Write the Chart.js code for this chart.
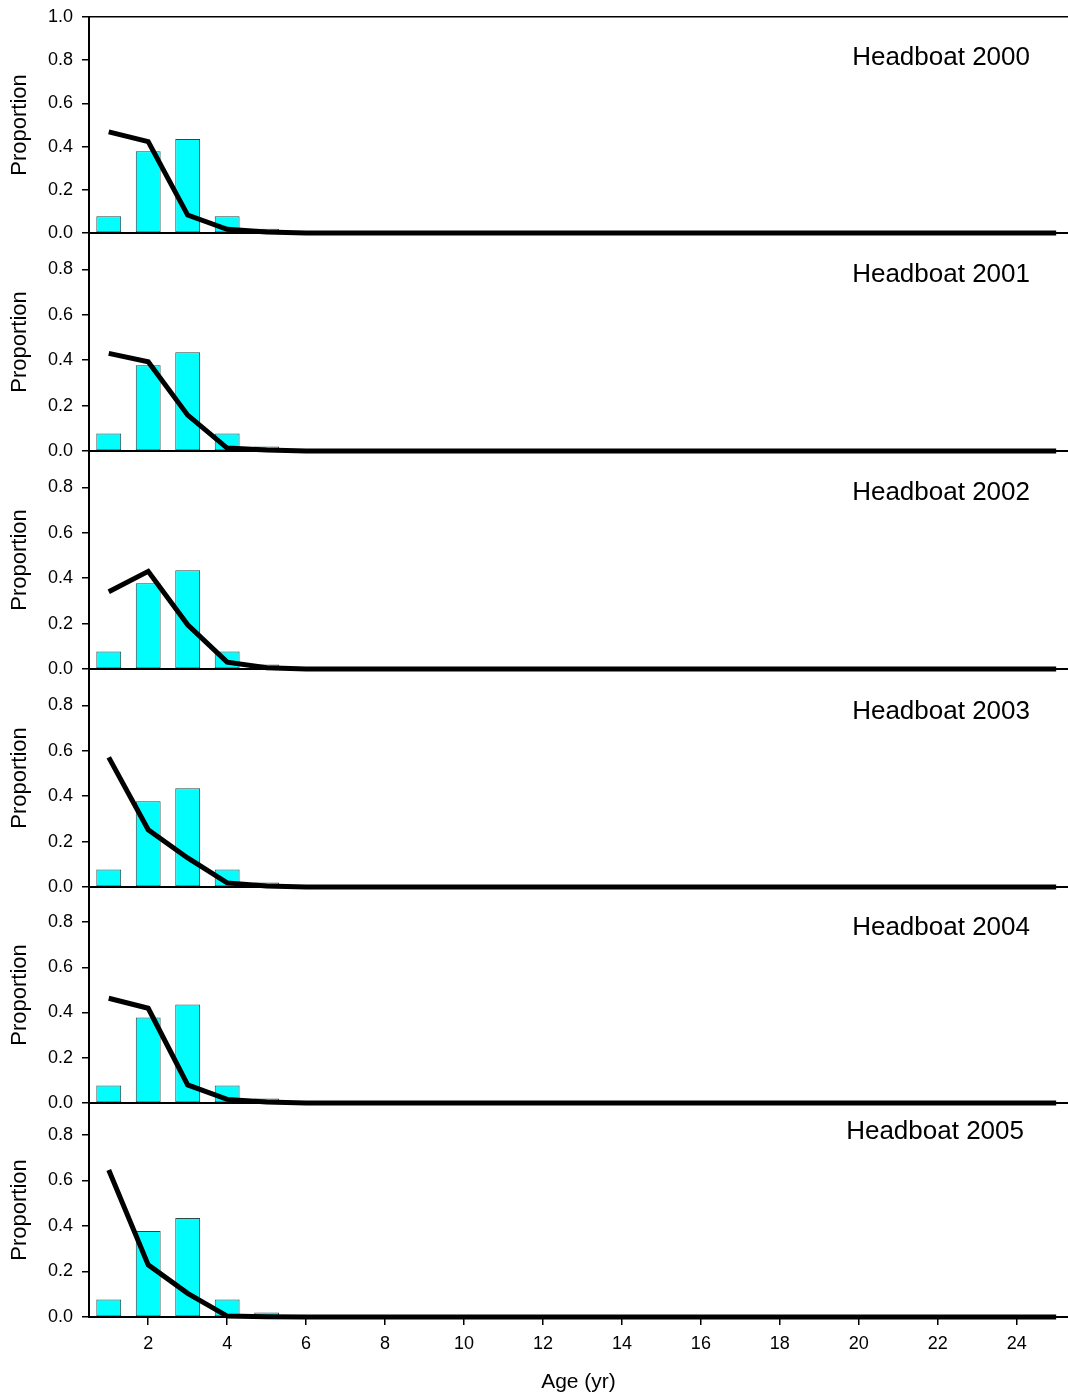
<!DOCTYPE html>
<html>
<head>
<meta charset="utf-8">
<script src="https://cdn.jsdelivr.net/npm/chart.js@4.4.1/dist/chart.umd.min.js"></script>
<style>
  body { margin: 0; background: #fff; }
  #wrap { position: relative; width: 1068px; height: 1399px; overflow: hidden; }
  #wrap canvas { position: absolute; left: 0; }
</style>
</head>
<body>
<div id="wrap"></div>
<script>
// ages on the x axis
const ages = [1, 2, 3, 4, 5, 6, 7, 8, 9, 10, 11, 12, 13, 14, 15, 16, 17, 18, 19, 20, 21, 22, 23, 24, 25];
const panelNames = ['Headboat 2000', 'Headboat 2001', 'Headboat 2002', 'Headboat 2003', 'Headboat 2004', 'Headboat 2005'];

// observed proportions (bars), ages 1-5
const observed = [0.077, 0.378, 0.435, 0.077, 0.02];

// predicted proportions (lines), ages 1-25
const pred2000 = [0.468, 0.423, 0.083, 0.017, 0.005, 0, 0, 0, 0, 0, 0, 0, 0, 0, 0, 0, 0, 0, 0, 0, 0, 0, 0, 0, 0];
const pred2001 = [0.430, 0.393, 0.158, 0.013, 0.004, 0, 0, 0, 0, 0, 0, 0, 0, 0, 0, 0, 0, 0, 0, 0, 0, 0, 0, 0, 0];
const pred2002 = [0.340, 0.430, 0.195, 0.030, 0.006, 0, 0, 0, 0, 0, 0, 0, 0, 0, 0, 0, 0, 0, 0, 0, 0, 0, 0, 0, 0];
const pred2003 = [0.571, 0.252, 0.128, 0.018, 0.004, 0, 0, 0, 0, 0, 0, 0, 0, 0, 0, 0, 0, 0, 0, 0, 0, 0, 0, 0, 0];
const pred2004 = [0.463, 0.419, 0.080, 0.016, 0.004, 0, 0, 0, 0, 0, 0, 0, 0, 0, 0, 0, 0, 0, 0, 0, 0, 0, 0, 0, 0];
const pred2005 = [0.646, 0.229, 0.104, 0.004, 0.001, 0, 0, 0, 0, 0, 0, 0, 0, 0, 0, 0, 0, 0, 0, 0, 0, 0, 0, 0, 0];
const predicted = [pred2000, pred2001, pred2002, pred2003, pred2004, pred2005];

// panel placement on the page (pixels) and y ranges
const panelBoxes = [
  { top: 17,   bottom: 233,  yMax: 1.0,  labelDx: 38, labelDy: 48 },
  { top: 233,  bottom: 451,  yMax: 0.96, labelDx: 38, labelDy: 49 },
  { top: 451,  bottom: 669,  yMax: 0.96, labelDx: 38, labelDy: 49 },
  { top: 669,  bottom: 887,  yMax: 0.96, labelDx: 38, labelDy: 50 },
  { top: 887,  bottom: 1103, yMax: 0.955, labelDx: 38, labelDy: 48 },
  { top: 1103, bottom: 1317, yMax: 0.94, labelDx: 44, labelDy: 36 }
];

const FONT = '"Liberation Sans", Arial, sans-serif';
Chart.defaults.font.family = FONT;
Chart.defaults.color = '#000';

const panelLabel = {
  id: 'panelLabel',
  afterDatasetsDraw(chart, args, opts) {
    const { ctx, chartArea } = chart;
    ctx.save();
    ctx.font = '26px ' + FONT;
    ctx.fillStyle = '#000';
    ctx.textAlign = 'right';
    ctx.textBaseline = 'alphabetic';
    ctx.fillText(opts.text, chartArea.right - opts.dx, chartArea.top + opts.dy);
    ctx.restore();
  }
};

const wrap = document.getElementById('wrap');
const PAD = 20;

panelBoxes.forEach((box, i) => {
  const last = i === panelBoxes.length - 1;
  const first = i === 0;
  const canvasTop = box.top - PAD;
  const canvasH = last ? 1399 - canvasTop : (box.bottom - box.top) + 2 * PAD;

  const canvas = document.createElement('canvas');
  canvas.width = 1068;
  canvas.height = canvasH;
  canvas.style.top = canvasTop + 'px';
  wrap.appendChild(canvas);

  const barData = observed.map((v, k) => ({ x: ages[k], y: v }));
  const lineData = predicted[i].map((v, k) => ({ x: ages[k], y: v }));

  new Chart(canvas, {
    type: 'bar',
    data: {
      datasets: [
        {
          type: 'line',
          data: lineData,
          borderColor: '#000',
          borderWidth: 5,
          pointRadius: 0,
          tension: 0,
          clip: false,
          order: 0
        },
        {
          type: 'bar',
          data: barData,
          backgroundColor: '#00ffff',
          borderColor: '#2a4848',
          borderWidth: 1,
          borderSkipped: false,
          barPercentage: 0.63,
          categoryPercentage: 1,
          order: 1
        }
      ]
    },
    options: {
      responsive: false,
      devicePixelRatio: 1,
      animation: false,
      layout: { padding: { top: PAD, bottom: last ? 0 : PAD, left: 0, right: 0 } },
      plugins: {
        legend: { display: false },
        tooltip: { enabled: false },
        panelLabel: { text: panelNames[i], dx: box.labelDx, dy: box.labelDy }
      },
      scales: {
        x: {
          type: 'linear',
          position: 'bottom',
          min: 0.5,
          max: 25.3,
          offset: false,
          afterFit: s => { s.height = last ? 82 : 0; },
          border: { display: true, color: '#000', width: 2 },
          grid: { offset: false, drawOnChartArea: false, drawTicks: last, tickLength: 8, color: '#000', lineWidth: 1.5 },
          ticks: {
            display: last,
            stepSize: 2,
            includeBounds: false,
            padding: 8,
            maxRotation: 0,
            font: { size: 18 },
            color: '#000'
          },
          title: {
            display: last,
            text: 'Age (yr)',
            font: { size: 21 },
            color: '#000',
            padding: { top: 0, bottom: 4 }
          }
        },
        xTop: {
          type: 'linear',
          position: 'top',
          display: first,
          min: 0.5,
          max: 25.3,
          afterFit: s => { s.height = 0; },
          border: { display: true, color: '#000', width: 1.5 },
          grid: { drawOnChartArea: false, drawTicks: false },
          ticks: { display: false }
        },
        y: {
          min: 0,
          max: box.yMax,
          afterFit: s => { s.width = 89; },
          border: { display: true, color: '#000', width: 2 },
          grid: { drawOnChartArea: false, drawTicks: true, tickLength: 7, color: '#000', lineWidth: 1.5 },
          ticks: {
            stepSize: 0.2,
            includeBounds: false,
            padding: 9,
            font: { size: 18 },
            color: '#000',
            callback: v => Number(v).toFixed(1)
          },
          title: {
            display: true,
            text: 'Proportion',
            font: { size: 22 },
            color: '#000',
            padding: { top: 7, bottom: 0 }
          }
        }
      }
    },
    plugins: [panelLabel]
  });
});
</script>
</body>
</html>
